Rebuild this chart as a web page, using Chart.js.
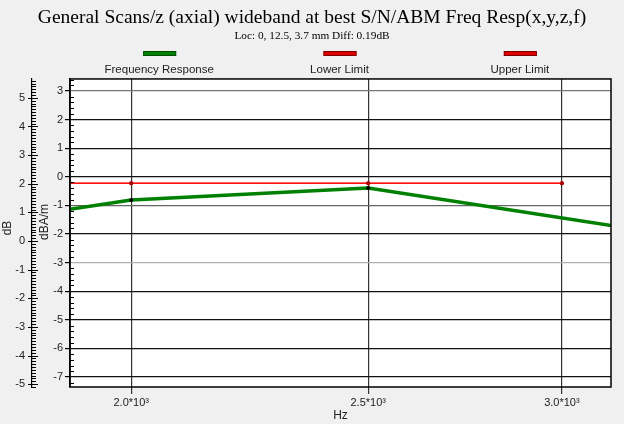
<!DOCTYPE html>
<html><head><meta charset="utf-8">
<script src="https://cdn.jsdelivr.net/npm/chart.js@4/dist/chart.umd.min.js"></script>
<style>html,body{margin:0;padding:0;background:#f0f0f0;overflow:hidden}</style>
</head><body>
<canvas id="c" width="624" height="424" style="display:block;width:624px;height:424px"></canvas>
<script>
const titleText = 'General Scans/z (axial) wideband at best S/N/ABM Freq Resp(x,y,z,f)';
const subtitleText = 'Loc: 0, 12.5, 3.7 mm Diff: 0.19dB';
const seriesNames = ['Frequency Response', 'Lower Limit', 'Upper Limit'];
const responseFreqs = [1600, 2000, 2500, 3150];
const responseValues = [-2.08, -0.81, -0.39, -1.72];
const limitFreqs = [1600, 2000, 2500, 3000];
const lowerLimitValues = [-0.23, -0.23, -0.23, -0.23];
const upperLimitValues = [-0.23, -0.23, -0.23, -0.23];
const xTickValues = [2000, 2500, 3000];
const xTickLabels = ['2.0*10³', '2.5*10³', '3.0*10³'];
const xRange = [1888, 3142];
const yInnerTicks = [-7, -6, -5, -4, -3, -2, -1, 0, 1, 2, 3];
const yInnerRange = [-7.35, 3.42];   // dBA/m
const yOuterTicks = [-5, -4, -3, -2, -1, 0, 1, 2, 3, 4, 5];
const yOuterRange = [-5.1, 5.66];    // dB
const xTitle = 'Hz', yOuterTitle = 'dB', yInnerTitle = 'dBA/m';

const toXY = (xs, ys) => xs.map((x, i) => ({x: x, y: ys[i]}));
const SANS = 'Liberation Sans';
const gridShade = {3: '#777', '-1': '#666', '-3': '#b0b0b0'};

const decor = {
  id: 'decor',
  beforeDraw(chart) {
    const {ctx, chartArea: a} = chart;
    ctx.save();
    ctx.fillStyle = '#f0f0f0';
    ctx.fillRect(0, 0, chart.width, chart.height);
    ctx.fillStyle = '#fff';
    ctx.fillRect(a.left, a.top, a.right - a.left, a.bottom - a.top);
    ctx.restore();
  },
  afterDraw(chart) {
    const {ctx, chartArea: a, scales} = chart;
    ctx.save();
    ctx.strokeStyle = '#000'; ctx.lineWidth = 1.5;
    ctx.strokeRect(a.left, a.top, a.right - a.left, a.bottom - a.top);
    ctx.lineWidth = 1; ctx.strokeStyle = '#000';
    ctx.beginPath();
    const yi = scales.y;
    for (let k = Math.ceil(yi.min * 5); k <= Math.floor(yi.max * 5); k++) {
      if (k % 5 === 0) continue;
      const py = Math.round(yi.getPixelForValue(k / 5)) + 0.5;
      ctx.moveTo(a.left, py); ctx.lineTo(a.left + 4, py);
    }
    const yo = scales.y2; const ax = yo.right;
    for (let k = Math.ceil(yo.min * 10); k <= Math.floor(yo.max * 10); k++) {
      const py = Math.round(yo.getPixelForValue(k / 10)) + 0.5;
      if (k % 10 === 0) { ctx.moveTo(ax - 4, py); ctx.lineTo(ax + 6, py); }
      else { ctx.moveTo(ax, py); ctx.lineTo(ax + 4, py); }
    }
    ctx.stroke();
    ctx.fillStyle = '#222';
    ctx.font = '12px "' + SANS + '"';
    ctx.textAlign = 'center'; ctx.textBaseline = 'middle';
    ctx.save(); ctx.translate(8, 228); ctx.rotate(-Math.PI / 2); ctx.fillText(yOuterTitle, 0, 0); ctx.restore();
    ctx.save(); ctx.translate(45, 222); ctx.rotate(-Math.PI / 2); ctx.fillText(yInnerTitle, 0, 0); ctx.restore();
    const n = chart.data.datasets.length;
    const w = (a.right - a.left) / n;
    chart.data.datasets.forEach((ds, i) => {
      const cx = a.left + (i + 0.5) * w - 1;
      ctx.fillStyle = ds.legendColor;
      ctx.fillRect(cx - 16, 51, 33, 5);
      ctx.strokeStyle = ds.legendEdge; ctx.lineWidth = 1;
      ctx.strokeRect(cx - 16 + 0.5, 51.5, 32, 4);
      ctx.fillStyle = '#222';
      ctx.font = '11.5px "' + SANS + '"';
      ctx.fillText(ds.label, cx, 70);
    });
    ctx.restore();
  }
};

new Chart(document.getElementById('c'), {
  type: 'line',
  data: {
    datasets: [
      {label: seriesNames[0], data: toXY(responseFreqs, responseValues), yAxisID: 'y',
       borderColor: '#008000', borderWidth: 3.5, pointRadius: 2, pointBorderWidth: 0,
       pointBackgroundColor: '#000', clip: 0, legendColor: '#008000', legendEdge: '#004d00'},
      {label: seriesNames[1], data: toXY(limitFreqs, lowerLimitValues), yAxisID: 'y',
       borderColor: 'rgba(255,0,0,0.75)', borderWidth: 1.5, pointRadius: 2, pointBorderWidth: 0,
       pointBackgroundColor: '#b00000', clip: 0, legendColor: '#e00000', legendEdge: '#7a0000'},
      {label: seriesNames[2], data: toXY(limitFreqs, upperLimitValues), yAxisID: 'y',
       borderColor: 'rgba(255,0,0,0.75)', borderWidth: 1.5, pointRadius: 2, pointBorderWidth: 0,
       pointBackgroundColor: '#b00000', clip: 0, legendColor: '#e00000', legendEdge: '#7a0000'}
    ]
  },
  options: {
    responsive: false, animation: false, devicePixelRatio: 1,
    layout: {padding: {top: 0, right: 0, bottom: 0, left: 0}},
    plugins: {
      legend: {display: false},
      tooltip: {enabled: false},
      title: {display: true, text: titleText, color: '#000',
              font: {family: 'Liberation Serif', size: 19.5, weight: 'normal'}, padding: {top: 6, bottom: 0}},
      subtitle: {display: true, text: subtitleText, color: '#000',
                 font: {family: 'Liberation Serif', size: 11.3, weight: 'normal'}, padding: {top: 0, bottom: 36}}
    },
    scales: {
      x: {
        type: 'logarithmic', min: xRange[0], max: xRange[1],
        afterBuildTicks: s => { s.ticks = xTickValues.map(v => ({value: v})); },
        afterFit: s => { s.height = 37; },
        ticks: {callback: (v, i) => xTickLabels[i], font: {family: SANS, size: 11}, color: '#222',
                padding: 2, maxRotation: 0, autoSkip: false},
        grid: {color: '#333', lineWidth: 1.2, tickLength: 7, tickColor: '#333'},
        border: {display: false},
        title: {display: true, text: xTitle, color: '#222', font: {family: SANS, size: 12}, padding: {top: 0, bottom: 1}}
      },
      y: {
        position: 'left', weight: 0, min: yInnerRange[0], max: yInnerRange[1],
        afterBuildTicks: s => { s.ticks = yInnerTicks.map(v => ({value: v})); },
        afterFit: s => { s.width = 38; },
        ticks: {font: {family: SANS, size: 11}, color: '#222', padding: 2, autoSkip: false},
        grid: {color: c => gridShade[c.tick && c.tick.value] || '#111', lineWidth: 1.2, tickLength: 5, tickColor: '#000'},
        border: {display: true, color: '#000', width: 1.5}
      },
      y2: {
        position: 'left', weight: 10, min: yOuterRange[0], max: yOuterRange[1],
        afterBuildTicks: s => { s.ticks = yOuterTicks.map(v => ({value: v})); },
        afterFit: s => { s.width = 32; },
        ticks: {font: {family: SANS, size: 11}, color: '#222', padding: 7, autoSkip: false},
        grid: {drawOnChartArea: false, drawTicks: false},
        border: {display: true, color: '#000', width: 1.2}
      },
      yPad: {
        position: 'right', min: 0, max: 1,
        afterBuildTicks: s => { s.ticks = []; },
        afterFit: s => { s.width = 13; },
        ticks: {display: false},
        grid: {display: false, drawTicks: false},
        border: {display: false}
      }
    }
  },
  plugins: [decor]
});
</script>
</body></html>
